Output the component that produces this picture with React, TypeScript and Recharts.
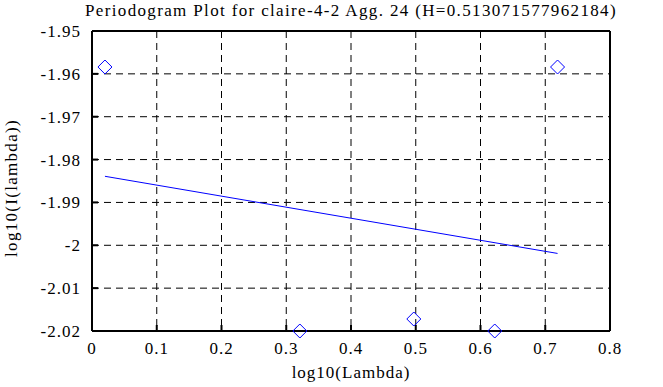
import { ScatterChart, Scatter, XAxis, YAxis, CartesianGrid } from 'recharts'

// log10(Lambda) and log10(I(lambda)) of the periodogram points
const lambdaLog = [0.02, 0.321, 0.497, 0.622, 0.719]
const intensityLog = [-1.9584, -2.02, -2.0172, -2.02, -1.9584]

// least squares fit, end points
const fitLambdaLog = [0.02, 0.719]
const fitIntensityLog = [-1.9839, -2.0019]

const xTicks = [0, 0.1, 0.2, 0.3, 0.4, 0.5, 0.6, 0.7, 0.8]
const yTicks = [-2.02, -2.01, -2, -1.99, -1.98, -1.97, -1.96, -1.95]

const points = lambdaLog.map((x, i) => ({ x, y: intensityLog[i] }))
const fit = fitLambdaLog.map((x, i) => ({ x, y: fitIntensityLog[i] }))

const FONT = "'Liberation Serif', serif"
const BLUE = '#0000ff'

function Diamond(props: any) {
  const { cx, cy } = props
  const r = 7
  return (
    <polygon
      points={`${cx},${cy - r} ${cx + r},${cy} ${cx},${cy + r} ${cx - r},${cy}`}
      fill="none"
      stroke={BLUE}
      strokeWidth={1}
    />
  )
}

const tickStyle = { fill: '#000', fontSize: 17, fontFamily: FONT }
const edge = { stroke: '#000', strokeWidth: 2 }

export default function App() {
  return (
    <div
      style={{
        position: 'absolute',
        left: 0,
        top: 0,
        width: 663,
        height: 387,
        background: '#fff',
        fontFamily: FONT,
        letterSpacing: '1px',
      }}
    >
      <div
        style={{
          position: 'absolute',
          top: 1,
          left: 0,
          width: 702,
          textAlign: 'center',
          fontSize: 17,
          lineHeight: '19px',
          letterSpacing: '1.35px',
          color: '#000',
        }}
      >
        Periodogram Plot for claire-4-2 Agg. 24 (H=0.513071577962184)
      </div>
      <ScatterChart width={663} height={387} margin={{ top: 30, right: 52, bottom: 0, left: 0 }}>
        <CartesianGrid stroke="#000" strokeDasharray="7 5" />
        <XAxis
          type="number"
          dataKey="x"
          domain={[0, 0.8]}
          ticks={xTicks}
          height={56}
          tick={tickStyle}
          tickSize={-6}
          tickMargin={17}
          axisLine={edge}
          tickLine={edge}
          label={{ value: 'log10(Lambda)', position: 'insideBottom', offset: 9, fill: '#000', fontSize: 17, fontFamily: FONT }}
        />
        <XAxis
          xAxisId="top"
          orientation="top"
          type="number"
          domain={[0, 0.8]}
          ticks={xTicks}
          height={1}
          tick={false}
          tickSize={-6}
          axisLine={edge}
          tickLine={edge}
        />
        <YAxis
          type="number"
          dataKey="y"
          domain={[-2.02, -1.95]}
          ticks={yTicks}
          width={92}
          tick={tickStyle}
          tickSize={-6}
          tickMargin={17}
          axisLine={edge}
          tickLine={edge}
          label={{
            content: () => (
              <text
                x={11}
                y={188}
                transform="rotate(-90 11 188)"
                textAnchor="middle"
                dominantBaseline="central"
                fontSize={17}
                fontFamily={FONT}
                letterSpacing="1.3px"
                fill="#000"
              >
                log10(I(lambda))
              </text>
            ),
          }}
        />
        <YAxis
          yAxisId="right"
          orientation="right"
          type="number"
          domain={[-2.02, -1.95]}
          ticks={yTicks}
          width={1}
          tick={false}
          tickSize={-6}
          axisLine={edge}
          tickLine={edge}
        />
        <Scatter
          data={fit}
          line={{ stroke: BLUE, strokeWidth: 1 }}
          shape={() => <g />}
          isAnimationActive={false}
        />
        <Scatter data={points} shape={<Diamond />} isAnimationActive={false} />
      </ScatterChart>
    </div>
  )
}
